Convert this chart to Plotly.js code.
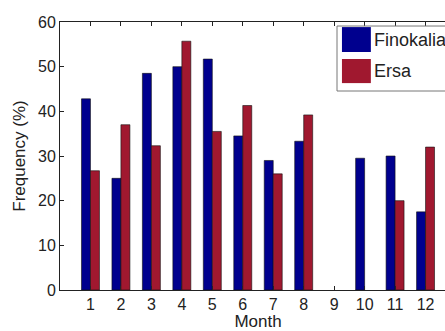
<!DOCTYPE html>
<html>
<head>
<meta charset="utf-8">
<script src="https://cdn.plot.ly/plotly-3.0.1.min.js"></script>
<style>
html,body{margin:0;padding:0;overflow:hidden;background:#fff;}
#chart{width:466px;height:331px;}
</style>
</head>
<body>
<div id="chart"></div>
<script>
const months = [1,2,3,4,5,6,7,8,9,10,11,12];
const finokalia = [42.8,25.0,48.5,50.0,51.7,34.5,29.0,33.3,null,29.5,30.0,17.5];
const ersa = [26.7,37.0,32.3,55.7,35.5,41.3,26.0,39.2,null,null,20.0,32.0];
const seriesNames = ['Finokalia','Ersa'];
const colors = ['#00008E','#A0182F'];

const fam = 'Arial, Liberation Sans, sans-serif';
const tickFont = {family:fam, size:16, color:'#222'};
const titleFont = {family:fam, size:17, color:'#222'};
const legFont = {family:fam, size:18, color:'#222'};

const traces = [
  {type:'bar', x:months, y:finokalia, name:seriesNames[0],
   marker:{color:colors[0], line:{color:'#111', width:0.6}}, showlegend:false},
  {type:'bar', x:months, y:ersa, name:seriesNames[1],
   marker:{color:colors[1], line:{color:'#111', width:0.6}}, showlegend:false}
];

// custom legend (box, swatches, labels)
const shapes = [
  {type:'rect', xref:'paper', yref:'paper', x0:0.6995, x1:0.995, y0:0.7425, y1:0.985,
   fillcolor:'#fff', line:{color:'#777', width:1}},
  {type:'rect', xref:'paper', yref:'paper', x0:0.712, x1:0.785, y0:0.888, y1:0.981,
   fillcolor:colors[0], line:{color:colors[0], width:0}},
  {type:'rect', xref:'paper', yref:'paper', x0:0.712, x1:0.785, y0:0.772, y1:0.862,
   fillcolor:colors[1], line:{color:colors[1], width:0}}
];
const annotations = [
  {xref:'paper', yref:'paper', x:0.787, y:0.934, xanchor:'left', yanchor:'middle',
   text:seriesNames[0], showarrow:false, font:legFont},
  {xref:'paper', yref:'paper', x:0.787, y:0.818, xanchor:'left', yanchor:'middle',
   text:seriesNames[1], showarrow:false, font:legFont}
];

const layout = {
  width:466, height:331,
  margin:{l:60, r:10, t:22, b:41},
  paper_bgcolor:'#fff', plot_bgcolor:'#fff',
  barmode:'group', bargap:0.41, bargroupgap:0,
  font:tickFont,
  xaxis:{range:[0,13], tickvals:months, ticktext:months.map(String),
    ticks:'inside', ticklen:4, tickcolor:'#222', showline:true, linecolor:'#222', linewidth:1,
    mirror:'ticks', showgrid:false, zeroline:false, tickfont:tickFont,
    title:{text:'Month', font:titleFont, standoff:0}},
  yaxis:{range:[0,60], dtick:10, tick0:0,
    ticks:'inside', ticklen:4, tickcolor:'#222', showline:true, linecolor:'#222', linewidth:1,
    mirror:'ticks', showgrid:false, zeroline:false, tickfont:tickFont,
    title:{text:'Frequency (%)', font:titleFont, standoff:8}},
  shapes:shapes,
  annotations:annotations
};

Plotly.newPlot('chart', traces, layout, {staticPlot:true, displayModeBar:false});
</script>
</body>
</html>
